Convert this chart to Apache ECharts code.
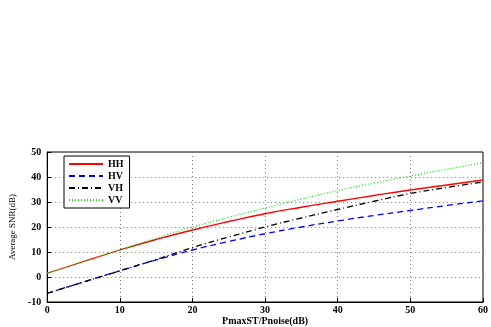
<!DOCTYPE html>
<html><head><meta charset="utf-8">
<script src="https://cdn.jsdelivr.net/npm/echarts@6/dist/echarts.min.js"></script>
<style>html,body{margin:0;padding:0;background:#fff}#c{width:491px;height:327px}</style>
</head><body><div id="c"></div>
<script>
const xVals = [0,5,10,15,20,25,30,35,40,45,50,55,60];
const HH = [1.5, 6.2, 10.8, 15, 18.8, 22.2, 25.3, 27.9, 30.3, 32.6, 34.8, 36.8, 38.8];
const HV = [-6.5, -2, 2.5, 6.8, 10.8, 14.2, 17.3, 20, 22.4, 24.6, 26.6, 28.6, 30.5];
const VH = [-6.5, -2, 2.5, 7, 11.8, 16, 20, 23.6, 27, 30.3, 33.4, 35.8, 38];
const VV = [1.5, 6.2, 10.8, 15.5, 20, 23.9, 27.6, 31.2, 34.6, 37.6, 40.4, 43.1, 45.7];
const names = ['HH','HV','VH','VV'];
const font = 'Liberation Serif';
function pts(arr){ return xVals.map((x,i)=>[x,arr[i]]); }
const chart = echarts.init(document.getElementById('c'));
const mk = (name, data, color, type) => ({
  name, type:'line', data: pts(data), symbol:'none', smooth:true,
  lineStyle:{color, width:1.3, type}, itemStyle:{color}
});
chart.setOption({
  animation:false,
  grid:{left:47,right:8,top:152,bottom:23,show:true,borderColor:'#000',borderWidth:1,containLabel:false},
  legend:{
    orient:'vertical', left:64, top:156, itemWidth:34, itemHeight:8, itemGap:2,
    borderColor:'#000', borderWidth:1, padding:[3,6,3,4], backgroundColor:'#fff',
    itemStyle:{opacity:0},
    textStyle:{fontFamily:font, fontSize:10, fontWeight:'bold', color:'#000'},
    data: names
  },
  xAxis:{type:'value', min:0, max:60, interval:10,
    name:'PmaxST/Pnoise(dB)', nameLocation:'middle', nameGap:14,
    nameTextStyle:{fontFamily:font, fontSize:10, fontWeight:'bold', color:'#000'},
    axisLine:{show:true, onZero:false, lineStyle:{color:'#000'}},
    axisTick:{show:true, inside:true, length:4, lineStyle:{color:'#000'}},
    axisLabel:{fontFamily:font, fontSize:10, fontWeight:'bold', color:'#000', margin:3},
    splitLine:{show:true, lineStyle:{color:'#777', type:[1,3], width:1}}
  },
  yAxis:{type:'value', min:-10, max:50, interval:10,
    name:'Average SNR(dB)', nameLocation:'middle', nameGap:24,
    nameTextStyle:{fontFamily:font, fontSize:9, color:'#000'},
    axisLine:{show:true, lineStyle:{color:'#000'}},
    axisTick:{show:true, inside:true, length:4, lineStyle:{color:'#000'}},
    axisLabel:{fontFamily:font, fontSize:10, fontWeight:'bold', color:'#000', margin:6},
    splitLine:{show:true, lineStyle:{color:'#777', type:[1,3], width:1}}
  },
  series:[
    mk('HH', HH, '#ff0000', 'solid'),
    mk('HV', HV, '#0000ff', [6,4]),
    mk('VH', VH, '#000000', [6,3,1,3]),
    mk('VV', VV, '#00ee00', [1,2])
  ]
});
</script></body></html>
